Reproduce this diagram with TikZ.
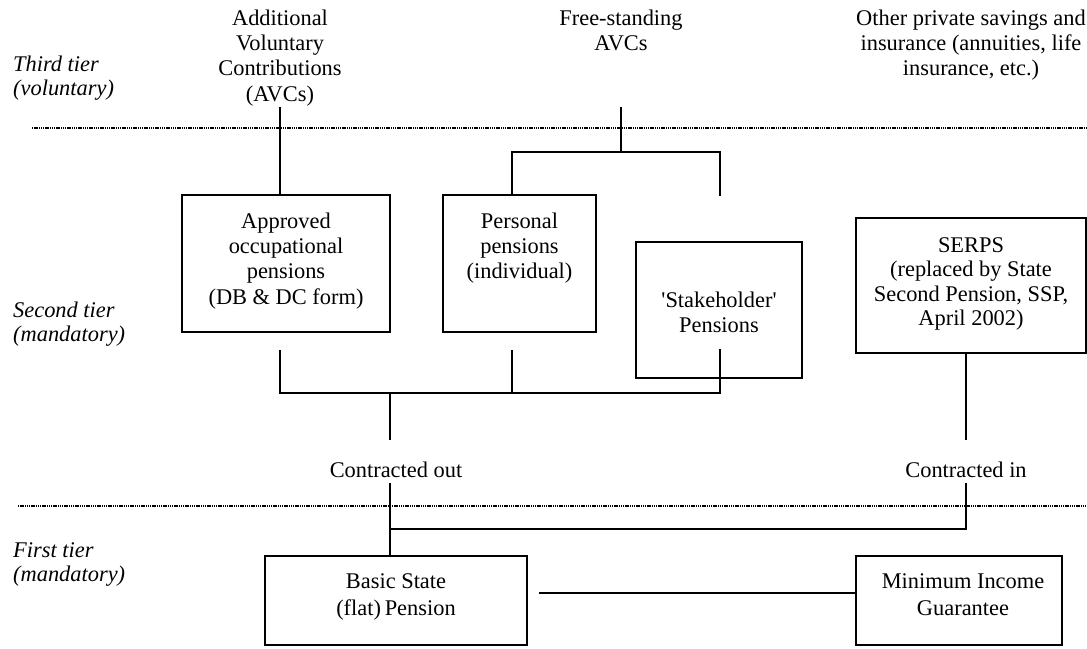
\documentclass[tikz,border=0pt]{standalone}
\usepackage{fontspec}
\setmainfont{Liberation Serif}
\begin{document}
\begin{tikzpicture}[x=1pt,y=-1pt,
  conn/.style={line width=1.6pt},
  tierline/.style={line width=2pt, dash pattern=on 1.4pt off 0.8pt},
  box/.style={draw, line width=1.6pt, inner sep=0pt},
  txt/.style={font=\fontsize{22.4}{25.3}\selectfont, align=center, inner sep=0pt, anchor=base},
  tier/.style={font=\fontsize{22.4}{24.5}\selectfont\itshape, align=left, inner sep=0pt, anchor=base west}
]
\useasboundingbox (0,0) rectangle (1087,648);

% tier separators
\coordinate (d1a) at (32,128);  \coordinate (d1b) at (1087,128);
\coordinate (d2a) at (18,506);  \coordinate (d2b) at (1087,506);
\draw[tierline] (d1a) -- (d1b);
\draw[tierline] (d2a) -- (d2b);

% tier labels (anchor = baseline of last line)
\node[tier] (third)  at (13,95.5)  {Third tier\\(voluntary)};
\node[tier] (second) at (13,341.5) {Second tier\\(mandatory)};
\node[tier] (first)  at (13,581.5) {First tier\\(mandatory)};

% third tier texts
\node[txt] (avc)   at (280,101)  {Additional\\Voluntary\\Contributions\\(AVCs)};
\node[txt] (fsavc) at (621,50.3) {Free-standing\\AVCs};
\node[txt] (other) at (971,75.6) {Other private savings and\\insurance (annuities, life\\insurance, etc.)};

% boxes
\node[box, minimum width=208pt, minimum height=137pt] (appr)  at (286,263.5) {};
\node[box, minimum width=153pt, minimum height=137pt] (pers)  at (519.5,263.5) {};
\node[box, minimum width=166pt, minimum height=136pt] (stake) at (719,310) {};
\node[box, minimum width=230pt, minimum height=135pt] (serps) at (971,285.5) {};
\node[box, minimum width=262pt, minimum height=89pt]  (basic) at (396,600.5) {};
\node[box, minimum width=206pt, minimum height=89pt]  (mig)   at (959,600.5) {};

% box texts
\node[txt] (apprt)  at (286,304)   {Approved\\occupational\\pensions\\(DB \& DC form)};
\node[txt] (perst)  at (519.5,278.6) {Personal\\pensions\\(individual)};
\node[txt] (staket) at (719,332.3) {\textquotesingle Stakeholder\textquotesingle\\Pensions};
\node[txt, font=\fontsize{22.4}{24.5}\selectfont] (serpst) at (971,325.5) {SERPS\\(replaced by State\\Second Pension, SSP,\\April 2002)};
\node[txt, font=\fontsize{22.4}{27}\selectfont] (basict) at (396,615) {Basic State\\(flat)\,Pension};
\node[txt, font=\fontsize{22.4}{27}\selectfont] (migt)   at (963,615) {Minimum Income\\Guarantee};

% contracted labels
\node[txt] (cout) at (396,477) {Contracted out};
\node[txt] (cin)  at (966,477) {Contracted in};

% junction coordinates
\coordinate (avcb) at (280,107);
\coordinate (fsb)  at (621,107);
\coordinate (fsj)  at (621,152);
\coordinate (pl)   at (512,152);
\coordinate (pr)   at (720,152);
\coordinate (prend) at (720,196);
\coordinate (a1) at (280,350);
\coordinate (p1) at (512,350);
\coordinate (s1) at (720,349);
\coordinate (a2) at (280,393);
\coordinate (p2) at (512,393);
\coordinate (s2) at (720,393);
\coordinate (c2) at (390,393);
\coordinate (c3) at (390,440);
\coordinate (c4) at (390,483);
\coordinate (c5) at (390,529);
\coordinate (e4) at (966,483);
\coordinate (e5) at (966,529);
\coordinate (e3) at (966,440);
\coordinate (bl) at (539,593);

% connectors
\draw[conn] (avcb) -- (avcb |- appr.north);
\draw[conn] (fsb) -- (fsj);
\draw[conn] (pl |- pers.north) -- (pl) -- (pr) -- (prend);
\draw[conn] (a1) -- (a2) -- (s2) -- (s1);
\draw[conn] (p1) -- (p2);
\draw[conn] (c2) -- (c3);
\draw[conn] (c4) -- (c4 |- basic.north);
\draw[conn] (c5) -- (e5) -- (e4);
\draw[conn] (e3 |- serps.south) -- (e3);
\draw[conn] (bl) -- (bl -| mig.west);
\end{tikzpicture}
\end{document}
